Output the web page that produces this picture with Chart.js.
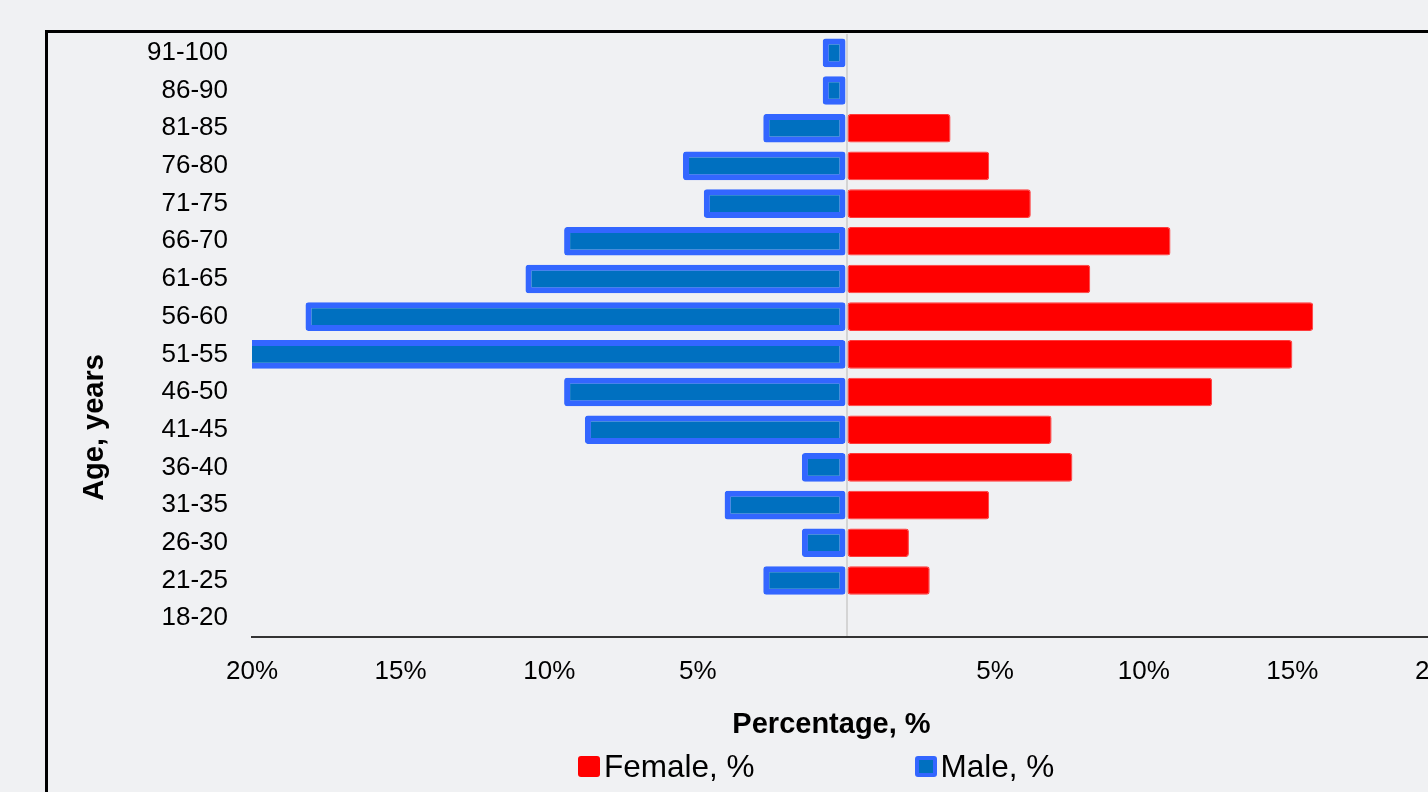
<!DOCTYPE html>
<html>
<head>
<meta charset="utf-8">
<script src="https://cdn.jsdelivr.net/npm/chart.js@4.4.1/dist/chart.umd.min.js"></script>
<style>
  html, body { margin: 0; padding: 0; background: #f0f1f3; overflow: hidden; width: 1428px; height: 792px; }
  #frame { position: absolute; left: 45px; top: 30px; border: 3px solid #000; width: 1423px; height: 770px; }
  #pyramid { display: block; }
  #legend { position: absolute; left: 578px; top: 748px; display: flex; gap: 160px; align-items: center;
            font-family: "Liberation Sans", Arial, sans-serif; font-size: 31.5px; color: #000; }
  .item { display: flex; align-items: center; }
  .swatch { width: 22px; height: 21px; border-radius: 3px; box-sizing: border-box; margin-right: 4px; }
</style>
</head>
<body>
<div id="frame"><canvas id="pyramid" width="1423" height="770"></canvas></div>
<div id="legend"></div>
<script>
// Age groups, youngest first (the y axis is reversed so the oldest sit on top)
const ageGroups = ['18-20', '21-25', '26-30', '31-35', '36-40', '41-45', '46-50', '51-55',
                   '56-60', '61-65', '66-70', '71-75', '76-80', '81-85', '86-90', '91-100'];

// Share of each sex in every age group, %
const femalePct = [0, 2.8, 2.1, 4.8, 7.6, 6.9, 12.3, 15.0, 15.7, 8.2, 10.9, 6.2, 4.8, 3.5, 0, 0];
const malePct   = [0, 2.8, 1.5, 4.1, 1.5, 8.8, 9.5, 20.6, 18.2, 10.8, 9.5, 4.8, 5.5, 2.8, 0.8, 0.8];

// Percentage axis ticks (both sides of zero)
const axisTicks = [-20, -15, -10, -5, 0, 5, 10, 15, 20];

const seriesNames = ['Female, %', 'Male, %'];

const FONT = '"Liberation Sans", Arial, sans-serif';
const LEFT_PAD = 20;
const Y_AXIS_WIDTH = 184;

// Moves an axis title by a fixed offset when the scale draws it
function offsetTitle(dx, dy) {
  return s => {
    if (s._titleOffset) return;
    const draw = s.drawTitle.bind(s);
    s.drawTitle = function () {
      const c = this.ctx;
      c.save();
      c.translate(dx, dy);
      draw();
      c.restore();
    };
    s._titleOffset = true;
  };
}

const data = {
  labels: ageGroups,
  datasets: [
    {
      label: seriesNames[0],
      data: femalePct,
      backgroundColor: '#ff0000',
      borderColor: '#ff3b3b',
      borderWidth: 1,
      borderRadius: 3,
      borderSkipped: false,
      clip: 0
    },
    {
      label: seriesNames[1],
      data: malePct.map(v => -v),
      backgroundColor: '#0070c0',
      borderColor: '#3366ff',
      borderWidth: 6,
      borderRadius: 3,
      borderSkipped: false,
      clip: 0
    }
  ]
};

const yTitleOffset = offsetTitle(0, 92);
const xTitleOffset = offsetTitle(-15, 0);

const chart = new Chart(document.getElementById('pyramid'), {
  type: 'bar',
  data,
  options: {
    indexAxis: 'y',
    responsive: false,
    animation: false,
    grouped: false,
    barPercentage: 0.76,
    categoryPercentage: 1,
    layout: { padding: { top: 1, left: LEFT_PAD, right: 30, bottom: 61 } },
    plugins: {
      legend: { display: false },
      tooltip: { enabled: false }
    },
    scales: {
      y: {
        reverse: true,
        grid: { display: false, drawTicks: false },
        border: { display: false },
        ticks: { color: '#000', font: { family: FONT, size: 26 }, padding: 24 },
        title: {
          display: true,
          text: 'Age, years',
          color: '#000',
          font: { family: FONT, size: 29, weight: 'bold' },
          padding: { top: 10, bottom: 34 }
        },
        afterFit: s => {
          s.width = Y_AXIS_WIDTH;
          s.paddingTop = 0;
          s.paddingBottom = 0;
          yTitleOffset(s);
        }
      },
      x: {
        min: axisTicks[0],
        max: axisTicks[axisTicks.length - 1],
        afterBuildTicks: scale => { scale.ticks = axisTicks.map(v => ({ value: v })); },
        grid: {
          drawTicks: false,
          lineWidth: 2,
          color: ctx => (ctx.tick && ctx.tick.value === 0) ? '#d4d4d4' : 'rgba(0,0,0,0)'
        },
        border: { display: true, color: '#333', width: 2 },
        ticks: {
          color: '#000',
          font: { family: FONT, size: 26 },
          padding: 19,
          maxRotation: 0,
          callback: v => v === 0 ? '' : Math.abs(v) + '%'
        },
        title: {
          display: true,
          text: 'Percentage, %',
          color: '#000',
          font: { family: FONT, size: 29, weight: 'bold' },
          padding: { top: 1, bottom: 0 }
        },
        afterFit: s => {
          s.paddingLeft = 0;
          s.paddingRight = 0;
          xTitleOffset(s);
        }
      }
    }
  }
});

// Legend built from the chart's own datasets
const legend = document.getElementById('legend');
chart.data.datasets.forEach(ds => {
  const item = document.createElement('div');
  item.className = 'item';
  const sw = document.createElement('span');
  sw.className = 'swatch';
  sw.style.background = ds.backgroundColor;
  sw.style.border = ds.borderWidth > 1 ? '4px solid ' + ds.borderColor : 'none';
  const txt = document.createElement('span');
  txt.textContent = ds.label;
  item.appendChild(sw);
  item.appendChild(txt);
  legend.appendChild(item);
});
</script>
</body>
</html>
